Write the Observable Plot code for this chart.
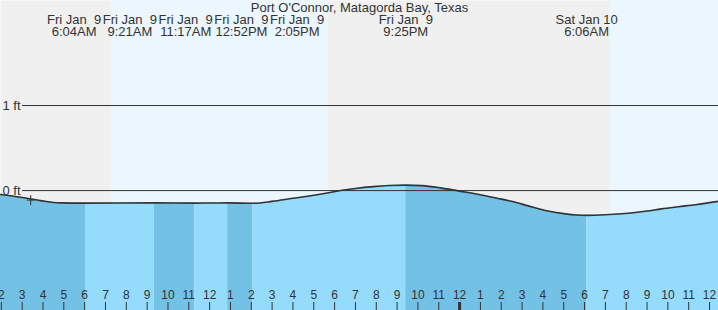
<!DOCTYPE html>
<html><head><meta charset="utf-8">
<script src="https://cdn.jsdelivr.net/npm/d3@7"></script>
<script src="https://cdn.jsdelivr.net/npm/@observablehq/plot@0.6"></script>
<style>
body{margin:0;background:#fff;}
#chart svg text{white-space:pre;}
</style></head><body><div id="chart"></div>
<script>
// ---- data (hours counted from Fri Jan 9, 00:00) ----
const title = "Port O'Connor, Matagorda Bay, Texas";
const xStartHour = 1.96, xEndHour = 36.43;
const yMin = -1.41, yMax = 2.235;
const eventDate = ["Fri Jan  9","Fri Jan  9","Fri Jan  9","Fri Jan  9","Fri Jan  9","Fri Jan  9","Sat Jan 10"];
const eventTime = ["6:04AM","9:21AM","11:17AM","12:52PM","2:05PM","9:25PM","6:06AM"];
const eventFeet = [-0.148,-0.144,-0.147,-0.145,-0.149,0.064,-0.291];
const readHour = [1.96, 2.92, 3.88, 4.84, 15.0, 16.0, 16.7, 17.5, 18.28, 19.0, 19.87, 20.6, 22.2, 23.08, 24.0, 25.0, 25.8, 26.49, 27.3, 28.12, 29.08, 29.6, 31.0, 32.11, 33.0, 33.69, 34.5, 35.33, 36.43];
const readFeet = [-0.047, -0.079, -0.118, -0.145, -0.127, -0.091, -0.067, -0.035, 0.0, 0.025, 0.047, 0.059, 0.058, 0.032, -0.006, -0.049, -0.09, -0.126, -0.18, -0.235, -0.274, -0.287, -0.285, -0.267, -0.241, -0.215, -0.19, -0.166, -0.126];
const sunrise = [7.29, 31.24];
const sunset = [17.71, 41.72];
const nowHour = 3.41, nowFeet = -0.112;
const levelLines = [0, 1];
const tickHours = d3.range(2, 37);

// ---- style ----
const W = 718, H = 310;
const nightColor = "#f0f0f0", dayColor = "#ebf6ff";
const fallColor = "#73c1e4", riseColor = "#95dbfc";
const ink = "#333";

function parseHour(date, time) {
  const m = time.match(/(\d+):(\d+)(AM|PM)/);
  let h = (+m[1] % 12) + (m[3] === "PM" ? 12 : 0) + (+m[2]) / 60;
  if (date.startsWith("Sat")) h += 24;
  return h;
}
const events = eventTime.map((t, i) => ({h: parseHour(eventDate[i], t), ft: eventFeet[i], date: eventDate[i], time: t}));
const tide = [...readHour.map((h, i) => ({h, ft: readFeet[i]})), ...events.map(e => ({h: e.h, ft: e.ft}))]
  .sort((a, b) => a.h - b.h);

// segments between tide events
const bounds = [xStartHour, ...events.map(e => e.h), xEndHour];
const segments = [];
for (let i = 0; i < bounds.length - 1; i++) {
  const pts = tide.filter(d => d.h >= bounds[i] - 1e-9 && d.h <= bounds[i + 1] + 1e-9);
  const rising = pts[pts.length - 1].ft > pts[0].ft;
  segments.push({pts, fill: rising ? riseColor : fallColor});
}

// label layout: spread overlapping labels around their mean
const pxPerHour = W / (xEndHour - xStartHour);
const gap = 55.75 / pxPerHour;
const groupShift = 2.5 / pxPerHour;
let groups = events.map(e => ({members: [e]}));
const center = g => d3.mean(g.members, m => m.h);
const left = g => center(g) - (g.members.length - 1) / 2 * gap;
const right = g => center(g) + (g.members.length - 1) / 2 * gap;
let changed = true;
while (changed) {
  changed = false;
  for (let i = 0; i < groups.length - 1; i++) {
    if (right(groups[i]) + gap > left(groups[i + 1])) {
      groups[i] = {members: groups[i].members.concat(groups[i + 1].members)};
      groups.splice(i + 1, 1);
      changed = true;
      break;
    }
  }
}
const labels = [];
for (const g of groups) {
  const n = g.members.length;
  const c = center(g) + (n > 1 ? groupShift : 0);
  g.members.forEach((m, k) => labels.push({...m, lx: c + (k - (n - 1) / 2) * gap}));
}

const plusSymbol = {draw(ctx) { ctx.moveTo(-4, 0); ctx.lineTo(4, 0); ctx.moveTo(0, -5); ctx.lineTo(0, 5); }};

const marks = [
  Plot.frame({fill: nightColor, stroke: null}),
  Plot.rect(sunrise.map((s, i) => ({x1: s, x2: sunset[i]})), {x1: "x1", x2: "x2", fill: dayColor}),
  ...segments.map(s => Plot.areaY(s.pts, {x: "h", y1: yMin, y2: "ft", fill: s.fill, curve: "monotone-x"})),
  Plot.ruleY(levelLines, {y: d => d, stroke: ink, strokeWidth: 1, insetLeft: 22}),
  Plot.lineY(tide, {x: "h", y: "ft", stroke: ink, strokeWidth: 1.6, curve: "monotone-x"}),
  Plot.dot([{h: nowHour, ft: nowFeet}], {x: "h", y: "ft", symbol: plusSymbol, stroke: ink, strokeWidth: 1, fill: "none"}),
  Plot.text(levelLines, {y: d => d, frameAnchor: "left", lineAnchor: "middle", dx: 2, textAnchor: "start", text: d => `${d} ft`, fill: ink, fontSize: 13}),
  Plot.ruleX(tickHours, {x: d => d, insetTop: 302, stroke: ink, strokeWidth: d => d % 24 === 0 ? 3 : 1}),
  Plot.text(tickHours, {x: d => d, frameAnchor: "bottom", lineAnchor: "middle", dy: -15, text: d => String(d % 12 || 12), fill: ink, fontSize: 12}),
  Plot.text(labels, {x: "lx", frameAnchor: "top", lineAnchor: "middle", dy: 19.5, text: "date", fill: ink, fontSize: 13}),
  Plot.text(labels, {x: "lx", frameAnchor: "top", lineAnchor: "middle", dy: 31, text: "time", fill: ink, fontSize: 13}),
  Plot.text([title], {frameAnchor: "top", lineAnchor: "middle", dy: 7, text: d => d, fill: ink, fontSize: 13})
];

const chart = Plot.plot({
  width: W, height: H,
  marginTop: 0, marginRight: 0, marginBottom: 0, marginLeft: 0,
  x: {domain: [xStartHour, xEndHour], clamp: true, axis: null},
  y: {domain: [yMin, yMax], axis: null},
  style: {fontFamily: "'Liberation Sans', Arial, sans-serif", fontSize: "13px", background: "transparent", overflow: "hidden"},
  marks
});
document.getElementById("chart").appendChild(chart);
</script></body></html>
